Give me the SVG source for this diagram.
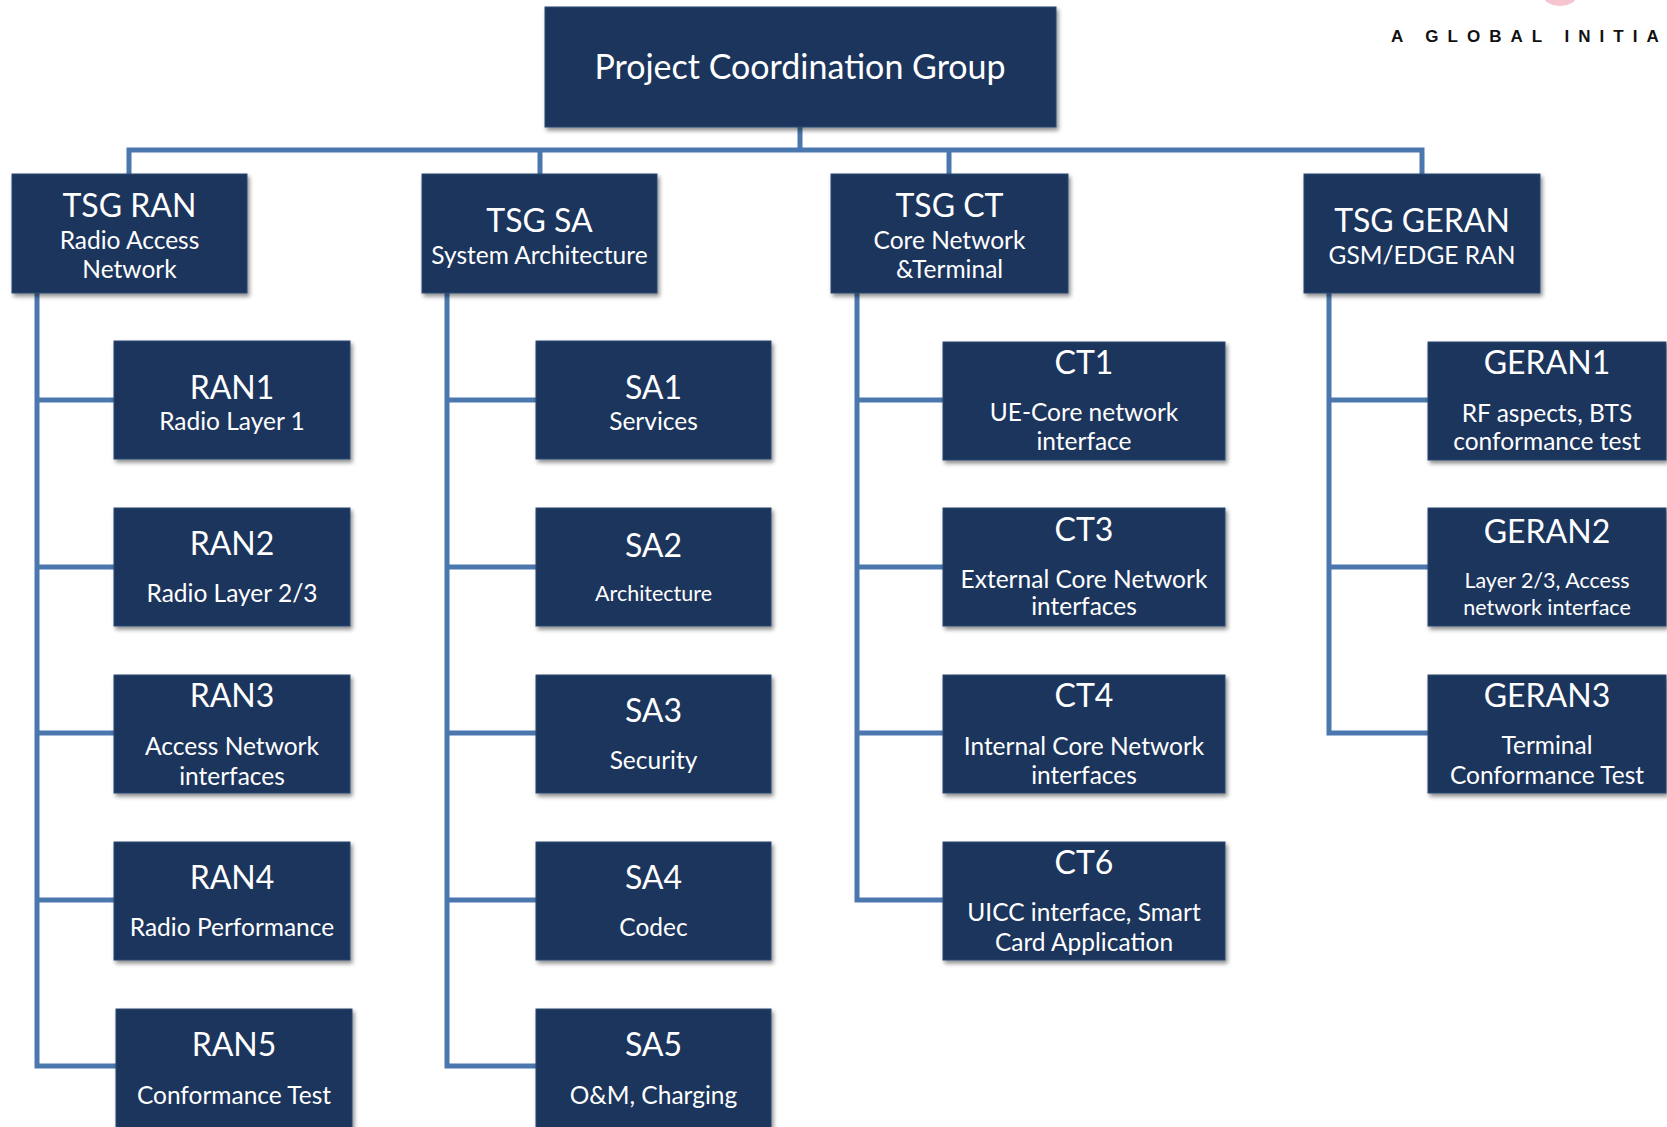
<svg xmlns="http://www.w3.org/2000/svg" width="1667" height="1127" viewBox="0 0 1667 1127">
<defs>
<filter id="sh" x="-5%" y="-5%" width="115%" height="120%">
<feDropShadow dx="2" dy="3" stdDeviation="2" flood-color="#000" flood-opacity="0.45"/>
</filter>
<style>
.box{fill:#1b365d;stroke:#2c4870;stroke-width:1;filter:url(#sh)}
.conn{fill:none;stroke:#4a77ad;stroke-width:5;stroke-linejoin:miter}
text{font-family:Lato,"Open Sans","Liberation Sans",sans-serif;fill:#ffffff;text-anchor:middle}
.h{font-size:32px}
.s{font-size:24.5px}
.ss{font-size:21.5px}
.t{font-size:34px}
.logo{font-family:"Liberation Sans",Arial,sans-serif;font-weight:bold;font-size:17px;fill:#111;letter-spacing:9px;text-anchor:start}
</style>
</defs>
<rect width="1667" height="1127" fill="#ffffff"/>
<ellipse cx="1560" cy="-3" rx="16" ry="9" fill="#f5c6d0"/>
<text class="logo" x="1391" y="42">A GLOBAL INITIA</text>

<g id="connectors">
<path class="conn" d="M800 127V150M129 174V150H1422V174M540 150V174M949 150V174"/>
<path class="conn" d="M37 293V1066H116M37 400H114M37 567H114M37 733H114M37 900H114"/>
<path class="conn" d="M447 293V1066H536M447 400H536M447 567H536M447 733H536M447 900H536"/>
<path class="conn" d="M857 293V900H943M857 400H943M857 567H943M857 733H943"/>
<path class="conn" d="M1329 293V733H1428M1329 400H1428M1329 567H1428"/>
</g>

<g id="pcg"><rect class="box" x="545" y="7" width="511" height="120"/><text class="t" x="800" y="79">Project Coordination Group</text></g>

<g id="tsg-ran"><rect class="box" x="12" y="174" width="235" height="119"/><text class="h" x="129.5" y="217">TSG RAN</text><text class="s" x="129.5" y="249">Radio Access</text><text class="s" x="129.5" y="278">Network</text></g>
<g id="tsg-sa"><rect class="box" x="422" y="174" width="235" height="119"/><text class="h" x="539.5" y="231.5">TSG SA</text><text class="s" x="539.5" y="264">System Architecture</text></g>
<g id="tsg-ct"><rect class="box" x="831" y="174" width="237" height="119"/><text class="h" x="949.5" y="217">TSG CT</text><text class="s" x="949.5" y="249">Core Network</text><text class="s" x="949.5" y="278">&amp;Terminal</text></g>
<g id="tsg-geran"><rect class="box" x="1304" y="174" width="236" height="119"/><text class="h" x="1422" y="231.5">TSG GERAN</text><text class="s" x="1422" y="264">GSM/EDGE RAN</text></g>

<g id="ran1"><rect class="box" x="114" y="341" width="236" height="118"/><text class="h" x="232" y="398.5">RAN1</text><text class="s" x="232" y="430">Radio Layer 1</text></g>
<g id="ran2"><rect class="box" x="114" y="508" width="236" height="118"/><text class="h" x="232" y="554.5">RAN2</text><text class="s" x="232" y="602">Radio Layer 2/3</text></g>
<g id="ran3"><rect class="box" x="114" y="675" width="236" height="118"/><text class="h" x="232" y="706.5">RAN3</text><text class="s" x="232" y="755">Access Network</text><text class="s" x="232" y="785">interfaces</text></g>
<g id="ran4"><rect class="box" x="114" y="842" width="236" height="118"/><text class="h" x="232" y="888.5">RAN4</text><text class="s" x="232" y="936">Radio Performance</text></g>
<g id="ran5"><rect class="box" x="116" y="1009" width="236" height="130"/><text class="h" x="234" y="1056">RAN5</text><text class="s" x="234" y="1104">Conformance Test</text></g>

<g id="sa1"><rect class="box" x="536" y="341" width="235" height="118"/><text class="h" x="653.5" y="398.5">SA1</text><text class="s" x="653.5" y="430">Services</text></g>
<g id="sa2"><rect class="box" x="536" y="508" width="235" height="118"/><text class="h" x="653.5" y="556.5">SA2</text><text class="ss" x="653.5" y="601">Architecture</text></g>
<g id="sa3"><rect class="box" x="536" y="675" width="235" height="118"/><text class="h" x="653.5" y="721.5">SA3</text><text class="s" x="653.5" y="769">Security</text></g>
<g id="sa4"><rect class="box" x="536" y="842" width="235" height="118"/><text class="h" x="653.5" y="888.5">SA4</text><text class="s" x="653.5" y="936">Codec</text></g>
<g id="sa5"><rect class="box" x="536" y="1009" width="235" height="130"/><text class="h" x="653.5" y="1056">SA5</text><text class="s" x="653.5" y="1104">O&amp;M, Charging</text></g>

<g id="ct1"><rect class="box" x="943" y="342" width="282" height="118"/><text class="h" x="1084" y="374">CT1</text><text class="s" x="1084" y="421">UE-Core network</text><text class="s" x="1084" y="450">interface</text></g>
<g id="ct3"><rect class="box" x="943" y="508" width="282" height="118"/><text class="h" x="1084" y="541">CT3</text><text class="s" x="1084" y="588">External Core Network</text><text class="s" x="1084" y="615">interfaces</text></g>
<g id="ct4"><rect class="box" x="943" y="675" width="282" height="118"/><text class="h" x="1084" y="706.5">CT4</text><text class="s" x="1084" y="755">Internal Core Network</text><text class="s" x="1084" y="784">interfaces</text></g>
<g id="ct6"><rect class="box" x="943" y="842" width="282" height="118"/><text class="h" x="1084" y="873.5">CT6</text><text class="s" x="1084" y="921">UICC interface, Smart</text><text class="s" x="1084" y="951">Card Application</text></g>

<g id="geran1"><rect class="box" x="1428" y="342" width="238" height="118"/><text class="h" x="1547" y="373.5">GERAN1</text><text class="s" x="1547" y="421.5">RF aspects, BTS</text><text class="s" x="1547" y="450">conformance test</text></g>
<g id="geran2"><rect class="box" x="1428" y="508" width="238" height="118"/><text class="h" x="1547" y="542.5">GERAN2</text><text class="ss" x="1547" y="588">Layer 2/3, Access</text><text class="ss" x="1547" y="615">network interface</text></g>
<g id="geran3"><rect class="box" x="1428" y="675" width="238" height="118"/><text class="h" x="1547" y="706.5">GERAN3</text><text class="s" x="1547" y="754">Terminal</text><text class="s" x="1547" y="784">Conformance Test</text></g>
</svg>
